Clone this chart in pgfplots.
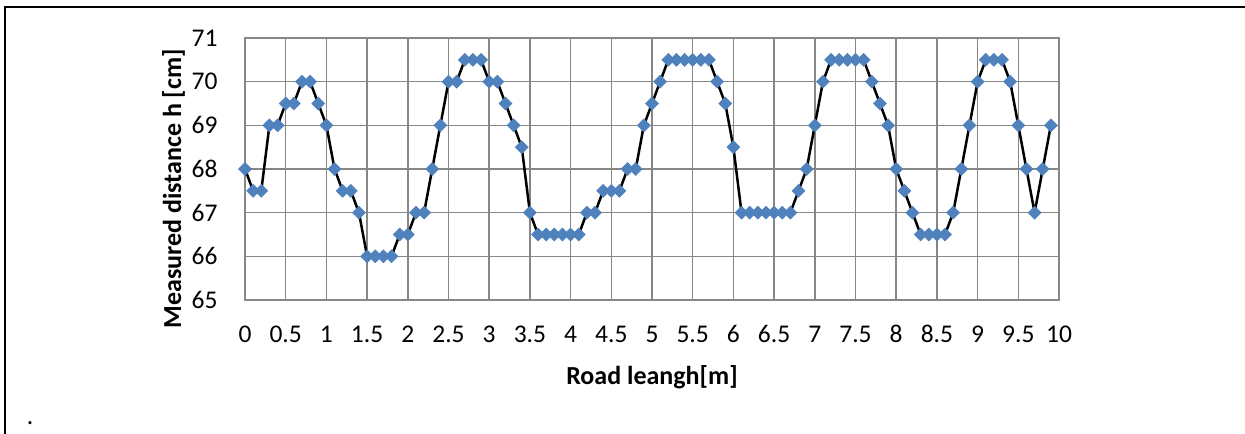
\documentclass[border=0pt]{standalone}
\usepackage{fontspec}
\setmainfont{Carlito}
\usepackage{pgfplots}
\pgfplotsset{compat=1.18}
\definecolor{mblue}{HTML}{4F81BD}
\definecolor{gridgray}{HTML}{868686}
\begin{document}
\begin{tikzpicture}
\useasboundingbox (0,0) rectangle (498pt,173.6pt);
% page frame (document decoration)
\draw[line width=0.5pt] (2pt,170.7pt) -- (2pt,0pt);
\draw[line width=0.8pt] (1.75pt,170.7pt) -- (47.2pt,170.7pt);
\draw[line width=0.45pt] (47.2pt,170.8pt) -- (441.2pt,170.8pt);
\draw[line width=0.8pt] (441.2pt,170.7pt) -- (498pt,170.7pt);
\node[anchor=base, font=\fontsize{10.2}{12}\selectfont, inner sep=0pt] at (12pt,3.6pt) {.};
\begin{axis}[
  at={(98pt,53.6pt)}, anchor=south west,
  scale only axis, width=325.6pt, height=104.8pt,
  xmin=0, xmax=10, ymin=65, ymax=71,
  xtick={0,0.5,1,1.5,2,2.5,3,3.5,4,4.5,5,5.5,6,6.5,7,7.5,8,8.5,9,9.5,10},
  ytick={65,66,67,68,69,70,71},
  grid=major,
  major grid style={draw=gridgray, line width=0.6pt},
  axis line style={draw=gridgray, line width=0.6pt},
  major tick length=0pt,
  /pgf/number format/assume math mode=true,
  tick label style={font=\fontsize{10.2}{12}\selectfont, inner sep=0pt},
  xticklabel style={anchor=base, yshift=-17.2pt},
  yticklabel style={anchor=east, xshift=-10.8pt},
  xlabel={\textbf{Road leangh[m]}},
  ylabel={\textbf{Measured distance h [cm]}},
  every axis x label/.style={at={(axis description cs:0.5,-0.3244)}, anchor=base, inner sep=0pt, font=\fontsize{10.4}{12}\selectfont},
  every axis y label/.style={at={(axis description cs:-0.0786,0.424)}, rotate=90, anchor=base, inner sep=0pt, font=\fontsize{10.4}{12}\selectfont},
  clip=false,
]
\addplot[black, line width=1pt, mark=square*, mark size=1.84pt,
  mark options={solid, rotate=45, fill=mblue, draw=mblue, line width=0.2pt}]
coordinates {
(0,68) (0.1,67.5) (0.2,67.5) (0.3,69) (0.4,69) (0.5,69.5) (0.6,69.5) (0.7,70) (0.8,70) (0.9,69.5)
(1.0,69) (1.1,68) (1.2,67.5) (1.3,67.5) (1.4,67) (1.5,66) (1.6,66) (1.7,66) (1.8,66) (1.9,66.5)
(2.0,66.5) (2.1,67) (2.2,67) (2.3,68) (2.4,69) (2.5,70) (2.6,70) (2.7,70.5) (2.8,70.5) (2.9,70.5)
(3.0,70) (3.1,70) (3.2,69.5) (3.3,69) (3.4,68.5) (3.5,67) (3.6,66.5) (3.7,66.5) (3.8,66.5) (3.9,66.5)
(4.0,66.5) (4.1,66.5) (4.2,67) (4.3,67) (4.4,67.5) (4.5,67.5) (4.6,67.5) (4.7,68) (4.8,68) (4.9,69)
(5.0,69.5) (5.1,70) (5.2,70.5) (5.3,70.5) (5.4,70.5) (5.5,70.5) (5.6,70.5) (5.7,70.5) (5.8,70) (5.9,69.5)
(6.0,68.5) (6.1,67) (6.2,67) (6.3,67) (6.4,67) (6.5,67) (6.6,67) (6.7,67) (6.8,67.5) (6.9,68)
(7.0,69) (7.1,70) (7.2,70.5) (7.3,70.5) (7.4,70.5) (7.5,70.5) (7.6,70.5) (7.7,70) (7.8,69.5) (7.9,69)
(8.0,68) (8.1,67.5) (8.2,67) (8.3,66.5) (8.4,66.5) (8.5,66.5) (8.6,66.5) (8.7,67) (8.8,68) (8.9,69)
(9.0,70) (9.1,70.5) (9.2,70.5) (9.3,70.5) (9.4,70) (9.5,69) (9.6,68) (9.7,67) (9.8,68) (9.9,69)
};
\end{axis}
\end{tikzpicture}
\end{document}
